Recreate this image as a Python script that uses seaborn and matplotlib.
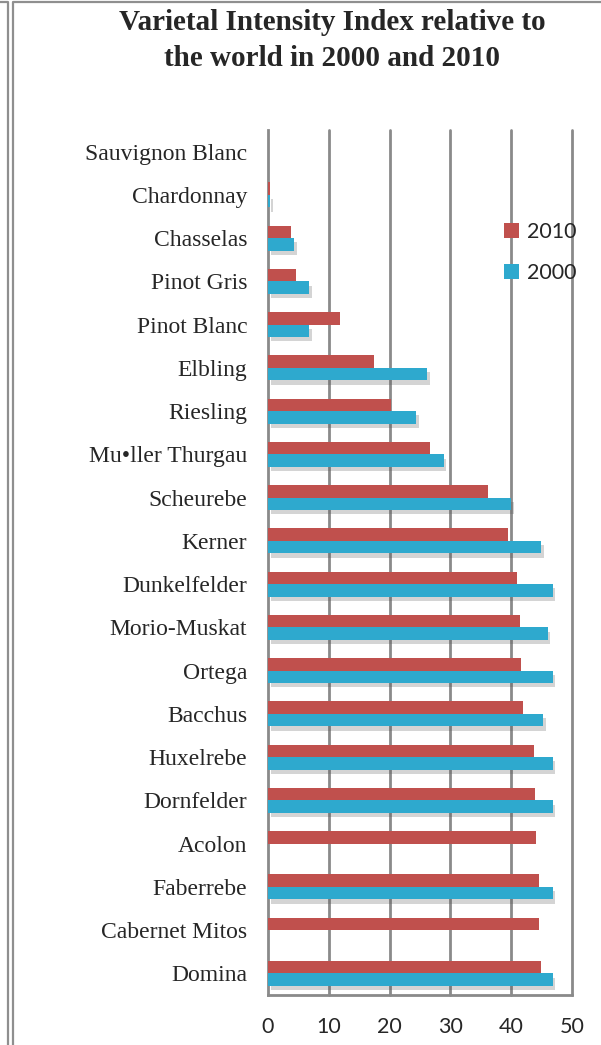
import pandas as pd
import numpy as np
import matplotlib
matplotlib.use("Agg")
import matplotlib.pyplot as plt
import matplotlib.patheffects as pe
import seaborn as sns
from matplotlib.lines import Line2D
from matplotlib.ticker import FixedLocator

# Data
varieties = ['Sauvignon Blanc', 'Chardonnay', 'Chasselas', 'Pinot Gris', 'Pinot Blanc',
             'Elbling', 'Riesling', 'Mu\u2022ller Thurgau', 'Scheurebe', 'Kerner',
             'Dunkelfelder', 'Morio-Muskat', 'Ortega', 'Bacchus', 'Huxelrebe',
             'Dornfelder', 'Acolon', 'Faberrebe', 'Cabernet Mitos', 'Domina']
vals_2010 = [0.0, 0.3, 3.8, 4.6, 11.8, 17.4, 20.3, 26.7, 36.2, 39.5,
             40.9, 41.5, 41.6, 41.9, 43.7, 43.9, 44.0, 44.6, 44.6, 44.9]
vals_2000 = [0.0, 0.4, 4.3, 6.7, 6.7, 26.2, 24.3, 28.9, 40.0, 44.9,
             46.8, 46.0, 46.8, 45.2, 46.8, 46.8, 0.0, 46.8, 0.0, 46.8]
years = ['2010', '2000']
x_ticks = [0, 10, 20, 30, 40, 50]

df = pd.DataFrame({
    'Variety': varieties * 2,
    'Value': vals_2010 + vals_2000,
    'Year': ['2010'] * len(varieties) + ['2000'] * len(varieties),
})

sns.set_theme(style="white")
plt.rcParams['font.family'] = ['Liberation Serif', 'DejaVu Serif']

W, H = 601, 1045
fig = plt.figure(figsize=(W / 100, H / 100), dpi=100)
ax = fig.add_axes([268 / W, 1 - 995 / H, (572 - 268) / W, (995 - 130) / H])

grid_col = '#8a8a8a'
for v in x_ticks[1:]:
    ax.axvline(v, color=grid_col, lw=2, zorder=0, clip_on=False)

sns.barplot(data=df, x='Value', y='Variety', hue='Year', hue_order=years,
            palette={'2010': '#C0504D', '2000': '#2EA9CE'}, orient='h',
            width=0.58, errorbar=None, ax=ax, zorder=3, linewidth=0, saturation=1)

# soft drop shadow under the 2000 bars, as in the original
for bar in ax.containers[1]:
    bar.set_path_effects([pe.SimplePatchShadow(offset=(2, -3), alpha=0.25,
                                               shadow_rgbFace='#555555'), pe.Normal()])

ax.set_xlim(0, 50)
ax.set_ylim(len(varieties) - 0.5, -0.5)
ax.set_xlabel('')
ax.set_ylabel('')
ax.set_xticks(x_ticks)
ax.set_xticklabels([str(t) for t in x_ticks], family=['Lato', 'DejaVu Sans'], fontsize=15.5)
ax.tick_params(axis='x', length=6, width=2, color=grid_col, direction='out', pad=10)
ax.tick_params(axis='y', which='major', length=0, pad=15, labelsize=17)
ax.yaxis.set_minor_locator(FixedLocator(np.arange(-0.5, len(varieties), 1.0)))
ax.tick_params(axis='y', which='minor', length=6, width=2, color=grid_col, direction='out')

for s in ['top', 'right']:
    ax.spines[s].set_visible(False)
for s in ['left', 'bottom']:
    ax.spines[s].set_color(grid_col)
    ax.spines[s].set_linewidth(2)

handles, labels = ax.get_legend_handles_labels()
ax.legend(handles, labels, loc='upper left', bbox_to_anchor=(485 / W, 1 - 203 / H),
          bbox_transform=fig.transFigure, frameon=False, handlelength=0.7,
          handleheight=0.7, handletextpad=0.35, labelspacing=0.95,
          prop={'family': ['Lato', 'DejaVu Sans'], 'size': 15.5})

fig.text(332 / W, 1 - 23 / H, 'Varietal Intensity Index relative to', ha='center', va='center',
         fontsize=21, fontweight='bold')
fig.text(332 / W, 1 - 58 / H, 'the world in 2000 and 2010', ha='center', va='center',
         fontsize=21, fontweight='bold')

# outer frame lines of the original chart boxes
def px_line(xs, ys, lw=2.0, color='#8f8f8f'):
    fig.add_artist(Line2D([x / W for x in xs], [1 - y / H for y in ys],
                          transform=fig.transFigure, color=color, lw=lw))

px_line([0, 8, 8], [1.5, 1.5, H], lw=1.6)
px_line([13, 13, W], [H, 1.5, 1.5], lw=1.6)

fig.savefig('out.png', dpi=100)
